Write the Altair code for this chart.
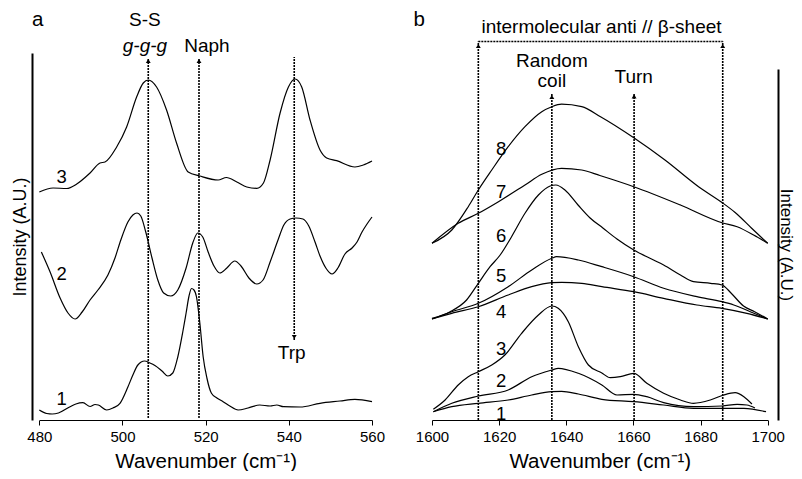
import altair as alt
import pandas as pd

FONT = "Liberation Sans, Arial, Helvetica, sans-serif"

# ---------------- panel a : Raman 480-560 cm-1 (intensity in A.U.) ----------------
a1_wn = [480, 481.8, 483.1, 484.6, 487.4, 488.8, 490.5, 492.2, 493.4, 494.2, 496.2, 497.7,
         499.4, 501.3, 502.5, 503.7, 505.3, 506.6, 507.8, 509.5, 510.9, 512.1, 513.3, 514.5,
         515.3, 516.0, 516.6, 517.2, 517.8, 518.6, 519.4, 520.3, 521.4, 522.7, 524.2, 525.8,
         527.8, 530.2, 533.0, 535.5, 537.1, 538.7, 542.7, 547.5, 552.3, 555.9, 560]
a1_int = [10, 6.5, 6, 7, 13.3, 16, 17.3, 13.5, 15.5, 15, 10, 12,
          16.7, 33, 45, 55, 59, 57, 54.5, 49, 44, 47, 63, 88,
          107, 124, 131.5, 130, 123, 97, 63.3, 42, 26.7, 22, 18.3, 14,
          10, 12, 15, 14, 15, 13.3, 13, 16.7, 19, 20.7, 18.3]

a2_wn = [480.5, 482.6, 485.0, 486.9, 488.6, 490.3, 492.2, 494.1, 496.5, 498.2, 499.6, 501.3,
         502.5, 503.5, 504.4, 505.6, 507.1, 508.5, 509.9, 511.6, 513.3, 515.3, 516.9, 518.1,
         519.3, 520.6, 522.0, 523.4, 525.1, 527.0, 528.5, 530.4, 532.3, 533.8, 535.5, 537.4,
         538.8, 540.3, 541.7, 543.4, 544.8, 546.3, 547.5, 548.9, 550.4, 551.8, 553.5, 555.2,
         556.4, 557.6, 558.8, 560]
a2_int = [168, 148, 122, 107, 101, 108, 120, 130, 145, 162, 180, 198,
          205, 207, 204, 188, 162, 140, 127, 124, 130, 152, 177, 187,
          183, 168, 154, 147, 152, 159, 154, 142, 136, 140, 158, 180,
          195, 201, 202, 201, 194, 178, 164, 152, 146, 152, 166, 172,
          178, 188, 196, 203]

a3_wn = [480, 483.3, 486.6, 489.0, 492.2, 494.6, 495.8, 498.6, 501.0, 503.4, 505.0, 506.2,
         508.2, 510.6, 513.0, 515.8, 518.6, 523.0, 525.0, 527.5, 529.9, 532.3, 533.9, 535.5,
         537.9, 539.9, 541.5, 543.1, 545.1, 547.5, 549.1, 551.5, 555.9, 557.9, 560]
a3_int = [228, 232, 231.5, 236, 247, 257, 258, 273, 293, 323, 337, 340,
          333, 310, 277, 248, 244, 240, 242.5, 238, 233, 231.7, 237, 260,
          307, 333, 341, 333, 300, 270, 262, 259.3, 253, 255, 259]

a_ticks = [480, 500, 520, 540, 560]
a_marker_wn = [506.2, 518.4, 541.3]          # S-S, Naph, Trp
a_marker_lo = [2, 2, 80]
a_marker_hi = [362, 362, 363]
a_up_wn, a_up_tip = [506.2, 518.4], [362, 362]
a_down_wn, a_down_tip = [541.3], [80]
a_labels = ["S-S", "Naph", "Trp"]
a_label_wn = [505.4, 520.3, 540.7]
a_label_val = [394, 368.3, 60.7]
a_italic_label, a_italic_wn, a_italic_val = ["g-g-g"], [505.4], [368.3]
a_num = ["1", "2", "3"]
a_num_wn = [485.4, 485.4, 485.4]
a_num_val = [15, 140, 236.7]

# ---------------- panel b : amide I 1600-1700 cm-1 ----------------
b1_wn = [1600.4, 1605.9, 1613.8, 1622.7, 1629.7, 1635.7, 1638.6, 1643.6, 1650.6, 1660.1, 1669.0,
         1677.9, 1686.4, 1692.9, 1699.5]
b1_int = [8.3, 13.3, 16.7, 20, 25, 28.3, 28.7, 26, 20.7, 18.3, 15, 11.7, 11.7, 11.7, 8.3]

b2_wn = [1600.4, 1605.9, 1613.8, 1622.7, 1629.7, 1635.7, 1637.6, 1643.6, 1650.6, 1655.1, 1660.1,
         1664.0, 1669.0, 1677.9, 1686.4, 1690.9, 1693.8, 1696.2]
b2_int = [8.3, 16.7, 24, 30, 43.3, 50, 51.7, 46.7, 35, 25, 25.7, 23.3, 17.3, 13.3, 14, 15.7, 15, 12]

b3_wn = [1600.4, 1603.9, 1607.8, 1610.8, 1613.8, 1617.8, 1621.7, 1626.7, 1631.7, 1635.7, 1637.6,
         1640.6, 1643.6, 1646.6, 1650.6, 1653.1, 1656.1, 1660.1, 1664.0, 1669.0, 1674.0, 1677.9,
         1682.9, 1686.9, 1690.3, 1692.9, 1695.3]
b3_int = [10.7, 20, 35, 43.3, 48.3, 55, 65, 86.7, 105, 114, 111.7, 98.3, 73.3, 55, 47, 42.3,
          43.3, 46.7, 36.7, 26.7, 20, 16.7, 20, 25, 27.3, 23.3, 16]

b4_wn = [1600, 1605.9, 1613.8, 1622.7, 1629.7, 1635.7, 1638.6, 1644.6, 1650.6, 1660.1, 1669.0,
         1678.9, 1686.4, 1693.8, 1700]
b4_int = [101, 106.7, 113.3, 125, 133.3, 137.3, 137.7, 136.7, 133.3, 128.3, 121.7, 115, 111.7,
          106.7, 101]

b5_wn = [1600, 1605.9, 1613.8, 1622.7, 1629.7, 1635.7, 1637.1, 1643.6, 1650.6, 1660.1, 1669.0,
         1678.9, 1686.4, 1689.9, 1694.8, 1700]
b5_int = [101, 108.3, 116.7, 133.3, 150, 161.7, 163.3, 160, 153.3, 143.3, 131.7, 123.3, 118.3,
          115, 108.3, 101]

b6_wn = [1600, 1605.4, 1610.3, 1613.8, 1617.3, 1620.3, 1623.7, 1627.7, 1631.7, 1635.2, 1636.9,
         1639.6, 1643.5, 1647.1, 1650.9, 1655.1, 1660.1, 1666.0, 1669.0, 1674.0, 1677.9, 1683.0,
         1686.4, 1689.2, 1692.8, 1696.1, 1700]
b6_int = [101.7, 108.3, 120, 136.7, 153.3, 165, 183.3, 206.7, 225, 234, 235, 230, 215, 202,
          192, 181, 170, 160, 155, 145, 138.3, 136.7, 135, 126.5, 114, 108.3, 101]

b7_wn = [1600, 1607.8, 1613.8, 1619.8, 1627.7, 1632.7, 1638.6, 1644.6, 1650.0, 1660.1, 1674.0,
         1686.4, 1690.9, 1695.8, 1700]
b7_int = [176.7, 196.7, 206.7, 218.3, 235, 245.7, 251.7, 250, 244.5, 233.3, 215, 197.3, 193.3,
          185, 176.7]

b8_wn = [1600, 1605.9, 1610.8, 1613.8, 1617.8, 1622.7, 1627.7, 1632.7, 1635.7, 1638.6, 1644.6,
         1650.2, 1660.0, 1669.4, 1679.4, 1686.4, 1690.3, 1695.3, 1700]
b8_int = [176.7, 190, 213.3, 230, 250, 273.3, 293.3, 308.3, 313.3, 315.8, 313.3, 303.3, 282.5,
          260, 233.3, 217.5, 207.5, 191.5, 176.7]

b_ticks = [1600, 1620, 1640, 1660, 1680, 1700]
b_marker_wn = [1613.8, 1686.6, 1635.7, 1660.2]   # beta-sheet x2, random coil, turn
b_marker_lo = [0, 0, 0, 0]
b_marker_hi = [378.5, 378.5, 326, 326.7]
b_up_wn, b_up_tip = [1613.8, 1686.6, 1635.7, 1660.2], [377, 377, 326, 326.7]
b_bracket_wn, b_bracket_wn2, b_bracket_val = [1613.8], [1686.6], [378.5]
b_labels = ["intermolecular anti // \u03b2-sheet", "Random", "coil", "Turn"]
b_label_wn = [1650.5, 1635.7, 1635.7, 1660.1]
b_label_val = [386.7, 353.3, 332.7, 336.7]
b_num = ["1", "2", "3", "4", "5", "6", "7", "8"]
b_num_wn = [1620.6] * 8
b_num_val = [0, 33.3, 65, 101.7, 138.3, 178.3, 221.7, 265]

panel_letters = ["a", "b"]
panel_letter_wn = [479.6, 1596.2]
panel_letter_val = [394, 394]

X_TITLE = "Wavenumber (cm\u207b\u00b9)"
Y_TITLE = "Intensity (A.U.)"


def spectra(d):
    rows = []
    for name, (wn, inten) in d.items():
        assert len(wn) == len(inten), name
        rows += [{"series": name, "wn": w, "val": v} for w, v in zip(wn, inten)]
    return pd.DataFrame(rows)


common = dict(grid=False, domainColor="black", tickColor="black", labelColor="black",
              titleColor="black", labelFont=FONT, titleFont=FONT, titleFontWeight="normal")


def panel(df, ticks, xdom, xrange, ydom, yrange, yorient, ytitle_pad, ytitle_size,
          marker_wn, marker_lo, marker_hi, up_wn, up_tip, down_wn, down_tip,
          labels, label_wn, label_val, nums, num_wn, num_val,
          italic=None, bracket=None, letter=None):
    xs = alt.Scale(domain=xdom, range=xrange, nice=False, zero=False)
    ys = alt.Scale(domain=ydom, range=yrange, nice=False, zero=False)
    xax = alt.Axis(orient="bottom", values=ticks, format="d", tickSize=5, labelFontSize=15,
                   titleFontSize=20.5, labelPadding=4, titlePadding=7, labelFlush=False,
                   labelOverlap=False, domainWidth=1, tickWidth=1, title=X_TITLE, **common)
    yax = alt.Axis(orient=yorient, labels=False, ticks=False, domainWidth=2,
                   titleFontSize=ytitle_size, titlePadding=ytitle_pad, title=Y_TITLE, **common)

    def X(f):
        return alt.X(f, type="quantitative", scale=xs, axis=xax)

    def Y(f):
        return alt.Y(f, type="quantitative", scale=ys, axis=yax)

    layers = []
    layers.append(alt.Chart(df).mark_line(interpolate="monotone", color="black", strokeWidth=1.2)
                  .encode(x=X("wn"), y=Y("val"), detail="series:N"))
    rules = pd.DataFrame({"wn": marker_wn, "lo": marker_lo, "hi": marker_hi})
    layers.append(alt.Chart(rules).mark_rule(color="black", strokeDash=[2, 1], strokeWidth=1.6)
                  .encode(x=X("wn"), y=Y("lo"), y2="hi:Q"))
    if bracket is not None:
        br = pd.DataFrame({"wn": bracket[0], "wn2": bracket[1], "val": bracket[2]})
        layers.append(alt.Chart(br).mark_rule(color="black", strokeDash=[2, 1], strokeWidth=1.6)
                      .encode(x=X("wn"), x2="wn2:Q", y=Y("val")))
    up = pd.DataFrame({"wn": up_wn, "val": up_tip})
    layers.append(alt.Chart(up).mark_point(shape="triangle-up", filled=True, size=24, color="black",
                                           opacity=1, yOffset=3)
                  .encode(x=X("wn"), y=Y("val")))
    if down_wn:
        dn = pd.DataFrame({"wn": down_wn, "val": down_tip})
        layers.append(alt.Chart(dn).mark_point(shape="triangle-down", filled=True, size=24,
                                               color="black", opacity=1, yOffset=-3)
                      .encode(x=X("wn"), y=Y("val")))
    lab = pd.DataFrame({"wn": label_wn, "val": label_val, "t": labels})
    layers.append(alt.Chart(lab).mark_text(font=FONT, fontSize=19, color="black", align="center",
                                           baseline="alphabetic")
                  .encode(x=X("wn"), y=Y("val"), text="t:N"))
    if italic is not None:
        it = pd.DataFrame({"wn": italic[1], "val": italic[2], "t": italic[0]})
        layers.append(alt.Chart(it).mark_text(font=FONT, fontSize=19, fontStyle="italic",
                                              color="black", align="center", baseline="alphabetic")
                      .encode(x=X("wn"), y=Y("val"), text="t:N"))
    nm = pd.DataFrame({"wn": num_wn, "val": num_val, "t": nums})
    layers.append(alt.Chart(nm).mark_text(font=FONT, fontSize=18.5, color="black", align="center",
                                          baseline="alphabetic")
                  .encode(x=X("wn"), y=Y("val"), text="t:N"))
    if letter is not None:
        lt = pd.DataFrame({"wn": [letter[1]], "val": [letter[2]], "t": [letter[0]]})
        layers.append(alt.Chart(lt).mark_text(font=FONT, fontSize=20.5, color="black", align="center",
                                              baseline="alphabetic")
                      .encode(x=X("wn"), y=Y("val"), text="t:N"))
    return alt.layer(*layers)


df_a = spectra({"1": (a1_wn, a1_int), "2": (a2_wn, a2_int), "3": (a3_wn, a3_int)})
df_b = spectra({"1": (b1_wn, b1_int), "2": (b2_wn, b2_int), "3": (b3_wn, b3_int),
                "4": (b4_wn, b4_int), "5": (b5_wn, b5_int), "6": (b6_wn, b6_int),
                "7": (b7_wn, b7_int), "8": (b8_wn, b8_int)})

# plot origin is page (32, 8)
pa = panel(df_a, a_ticks, [480, 560], [7.3, 340], [0, 367], [412, 45], "left", 3, 18,
           a_marker_wn, a_marker_lo, a_marker_hi, a_up_wn, a_up_tip, a_down_wn, a_down_tip,
           a_labels, a_label_wn, a_label_val, a_num, a_num_wn, a_num_val,
           italic=(a_italic_label, a_italic_wn, a_italic_val),
           letter=(panel_letters[0], panel_letter_wn[0], panel_letter_val[0]))
pb = panel(df_b, b_ticks, [1600, 1700], [400, 735.7], [0, 351], [412, 61], "right", -2, 17,
           b_marker_wn, b_marker_lo, b_marker_hi, b_up_wn, b_up_tip, [], [],
           b_labels, b_label_wn, b_label_val, b_num, b_num_wn, b_num_val,
           bracket=(b_bracket_wn, b_bracket_wn2, b_bracket_val),
           letter=(panel_letters[1], panel_letter_wn[1], panel_letter_val[1]))

chart = (alt.layer(pa, pb)
         .resolve_scale(x="independent", y="independent")
         .properties(width=746, height=412, autosize="none", background="white",
                     padding={"left": 24, "top": 0, "right": 16, "bottom": 51})
         .configure_view(stroke=None))

chart.save("out.html", embed_options={"renderer": "svg", "actions": False})
